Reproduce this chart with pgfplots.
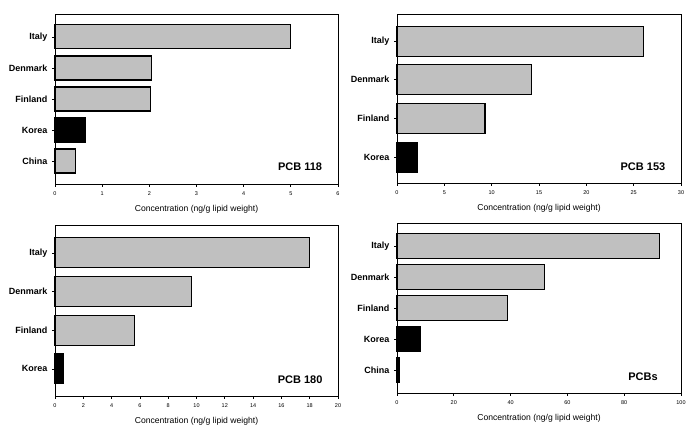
\documentclass[border=0pt]{standalone}
\usepackage{pgfplots}
\pgfplotsset{compat=1.18}
\usepackage{fontspec}
\setmainfont{Liberation Sans}
\definecolor{barg}{RGB}{192,192,192}
\tikzset{pcb/.style={font=\fontsize{11}{12}\selectfont\bfseries}}
\pgfplotsset{
  panel/.style={
    scale only axis,
    xbar, bar shift=0pt,
    axis line style={line width=0.9pt},
    xmin=0, ymin=-0.74,
    ytick={0,...,4},
    tick align=outside, tick pos=left,
    major tick length=3pt,
    every tick/.style={black, line width=0.7pt},
    tick label style={font=\fontsize{5.5}{6}\selectfont},
    yticklabel style={font=\fontsize{9}{10}\selectfont\bfseries, xshift=-1pt},
    xticklabel style={yshift=-1pt},
    /pgf/number format/assume math mode=true,
    xlabel={Concentration (ng/g lipid weight)},
    xlabel style={font=\fontsize{8.6}{9}\selectfont, yshift=-3pt},
    clip=false,
  },
  gb/.style={fill=barg, draw=black, line width=1.1pt},
  kb/.style={fill=black, draw=black, line width=1.1pt},
}
\begin{document}
\begin{tikzpicture}
\useasboundingbox (0pt,0pt) rectangle (695pt,427pt);
% PCB 118
\begin{axis}[panel, at={(55pt,243pt)}, anchor=south west, width=283pt, height=170pt,
  xmax=6, xtick={0,...,6}, ymax=4.74, bar width=24pt,
  yticklabels={China,Korea,Finland,Denmark,Italy}]
\addplot[gb] coordinates {(0.43,0) (2.02,2) (2.05,3) (5.0,4)};
\addplot[kb] coordinates {(0.65,1)};
\node[pcb] at (axis description cs:0.866,0.1) {PCB 118};
\end{axis}
% PCB 153
\begin{axis}[panel, at={(397pt,244pt)}, anchor=south west, width=284pt, height=169pt,
  xmax=30, xtick={0,5,...,30}, ymin=-0.67, ymax=3.70, ytick={0,...,3}, bar width=30pt,
  yticklabels={Korea,Finland,Denmark,Italy}]
\addplot[gb] coordinates {(9.3,1) (14.2,2) (26.0,3)};
\addplot[kb] coordinates {(2.2,0)};
\node[pcb] at (axis description cs:0.866,0.095) {PCB 153};
\end{axis}
% PCB 180
\begin{axis}[panel, at={(55pt,31pt)}, anchor=south west, width=283pt, height=171pt,
  xmax=20, xtick={0,2,...,20}, ymin=-0.70, ymax=3.72, ytick={0,...,3}, bar width=30pt,
  yticklabels={Korea,Finland,Denmark,Italy}]
\addplot[gb] coordinates {(5.6,1) (9.65,2) (18.0,3)};
\addplot[kb] coordinates {(0.6,0)};
\node[pcb] at (axis description cs:0.866,0.094) {PCB 180};
\end{axis}
% PCBs
\begin{axis}[panel, at={(397pt,34pt)}, anchor=south west, width=284pt, height=170pt,
  xmax=100, xtick={0,20,...,100}, ymax=4.74, bar width=25pt,
  yticklabels={China,Korea,Finland,Denmark,Italy}]
\addplot[gb] coordinates {(0.7,0) (39,2) (52,3) (92.5,4)};
\addplot[kb] coordinates {(8.3,1)};
\node[pcb] at (axis description cs:0.866,0.094) {PCBs};
\end{axis}
\end{tikzpicture}
\end{document}
